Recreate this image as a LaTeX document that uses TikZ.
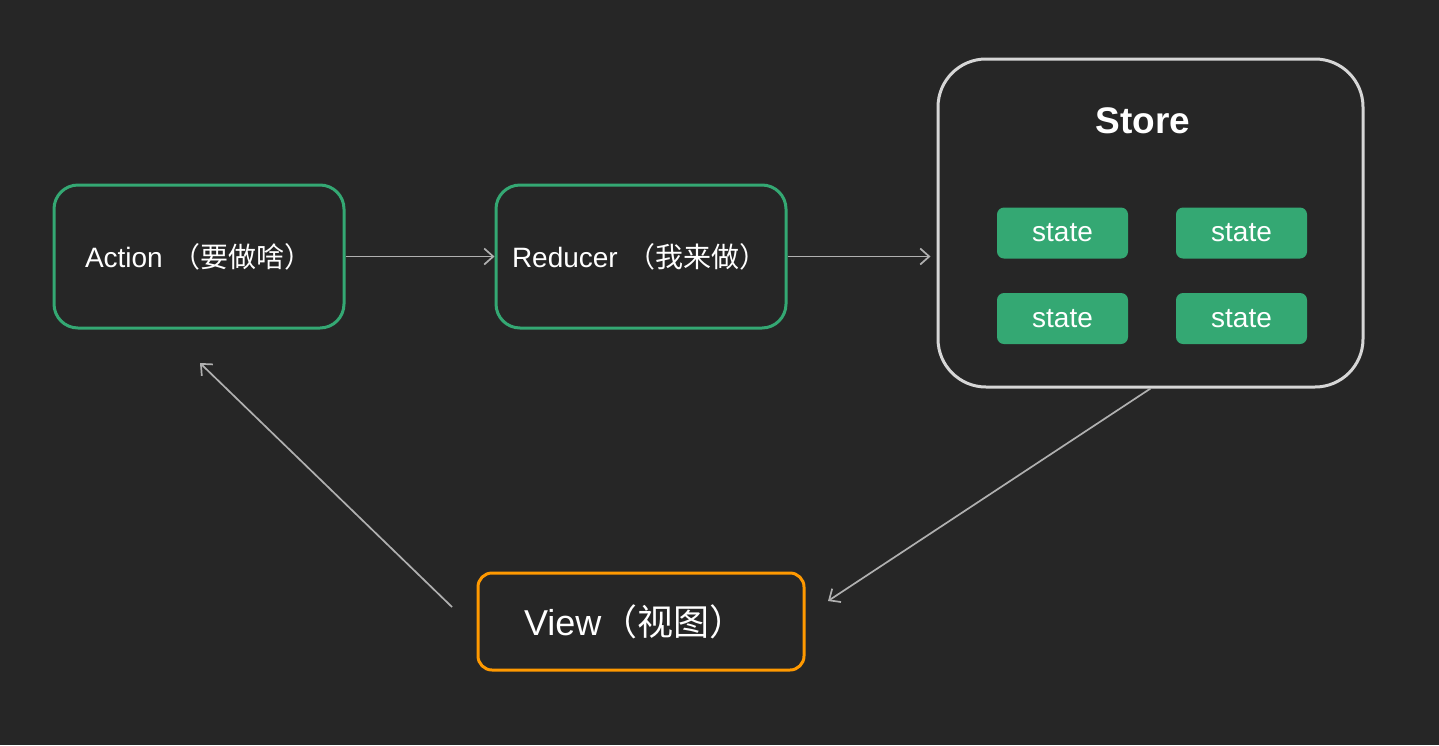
\documentclass[tikz,border=0pt]{standalone}
\usepackage{fontspec}
\setmainfont{Liberation Sans}
\newfontfamily\cjk{Noto Sans CJK SC}
\usetikzlibrary{arrows.meta,calc}
\definecolor{bg}{HTML}{262626}
\definecolor{grn}{HTML}{34A873}
\definecolor{org}{HTML}{FF9900}
\definecolor{stb}{HTML}{D6D6D6}
\definecolor{arrc}{HTML}{B0B0B0}
\tikzset{
  gbox/.style={draw=grn, line width=3pt, rounded corners=24pt, text=white, align=left, font=\fontsize{28}{32}\selectfont},
  vbox/.style={draw=org, line width=3pt, rounded corners=14pt, text=white, align=left, font=\fontsize{36}{40}\selectfont},
  sbox/.style={draw=stb, line width=3pt, rounded corners=48pt, minimum width=425pt, minimum height=328pt},
  stt/.style={fill=grn, rounded corners=7pt, minimum width=131pt, minimum height=51pt, text=white, font=\fontsize{28}{32}\selectfont, inner sep=0pt},
  ttl/.style={text=white, font=\fontsize{37}{40}\selectfont\bfseries},
  arr/.style={draw=arrc, line width=1.7pt, -{Straight Barb[length=9pt,width=16pt,line width=1.7pt]}}
}
\begin{document}
\begin{tikzpicture}[x=1pt,y=-1pt]
\fill[bg] (0,0) rectangle (1439,745);
\useasboundingbox (0,0) rectangle (1439,745);
\node[gbox, inner xsep=31pt, text width=228pt, minimum height=143pt] (action) at (199,256.5) {Action {\cjk （要做啥）}};
\node[gbox, inner xsep=16pt, text width=258pt, minimum height=143pt] (reducer) at (641,256.5) {Reducer {\cjk （我来做）}};
\node[sbox] (store) at (1150.5,223) {};
\node[ttl] (storetitle) at (1143,121) {Store};
\node[stt] (s1) at (1062.5,233) {state};
\node[stt] (s2) at (1241.5,233) {state};
\node[stt] (s3) at (1062.5,318.5) {state};
\node[stt] (s4) at (1241.5,318.5) {state};
\node[vbox, inner xsep=46pt, text width=234pt, minimum height=97pt] (view) at (641,621.5) {View{\cjk （视图）}};
\coordinate (vin) at (828,601);
\coordinate (vout) at (452,607);
\coordinate (ain) at (200,363);
\draw[arr] (action.east) -- (reducer.west);
\draw[arr, shorten >=6pt] (reducer.east) -- (reducer.east -| store.west);
\draw[arr] (store.south) -- (vin);
\draw[arr] (vout) -- (ain);
\end{tikzpicture}
\end{document}
